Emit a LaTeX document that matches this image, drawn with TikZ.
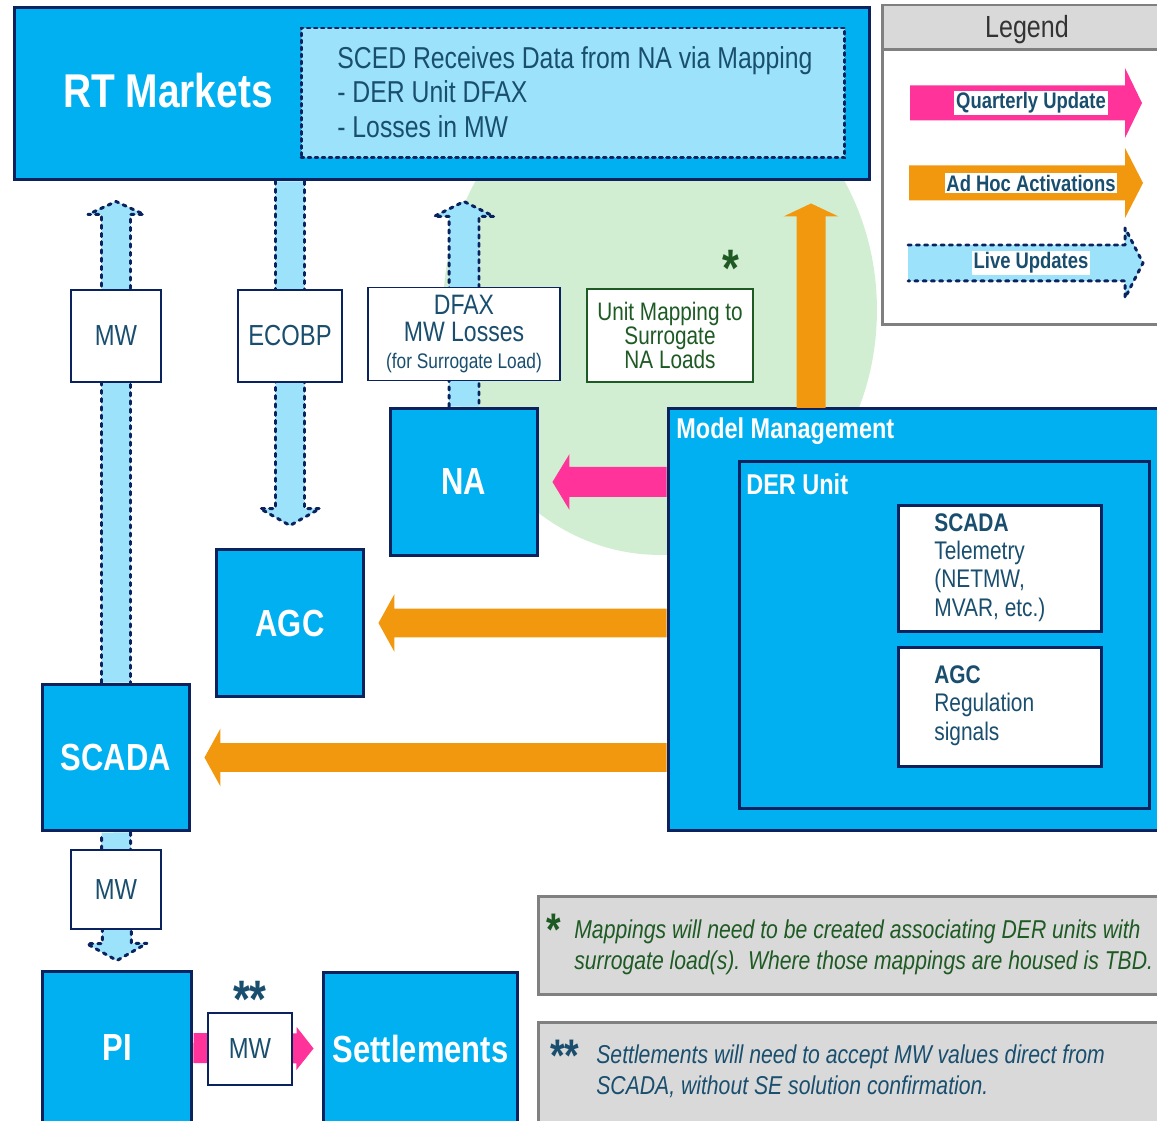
\documentclass[tikz,border=0pt]{standalone}
\usepackage{fontspec}
\setmainfont{Liberation Sans}[FakeStretch=0.82]
\usetikzlibrary{calc}

\definecolor{cyanbox}{RGB}{0,176,240}
\definecolor{navy}{RGB}{10,35,95}
\definecolor{livefill}{RGB}{155,226,250}
\definecolor{pinkq}{RGB}{255,51,153}
\definecolor{orangeah}{RGB}{242,152,14}
\definecolor{greenbg}{RGB}{210,238,210}
\definecolor{txtblue}{RGB}{25,78,110}
\definecolor{txtgreen}{RGB}{30,90,35}
\definecolor{notefill}{RGB}{217,217,217}
\definecolor{noteline}{RGB}{128,128,128}

\newcommand\rtfont{\fontsize{27}{30}\selectfont\bfseries}
\newcommand\bigfont{\fontsize{21.5}{24}\selectfont\bfseries}
\newcommand\scedfont{\fontsize{17.2}{19.6}\selectfont\lineskiplimit=-5pt\relax}
\newcommand\lblfont{\fontsize{16.5}{19}\selectfont}
\newcommand\mmfont{\fontsize{16.3}{19}\selectfont\bfseries}
\newcommand\derfont{\fontsize{14.5}{16.2}\selectfont\lineskiplimit=-5pt\relax}
\newcommand\legfont{\fontsize{12.8}{15}\selectfont\bfseries}
\newcommand\legtitle{\fontsize{17.4}{20}\selectfont}
\newcommand\notefont{\fontsize{14.7}{17.6}\selectfont\itshape\lineskiplimit=-5pt\relax}
\newcommand\tightfont{\fontsize{16}{15.3}\selectfont\lineskiplimit=-5pt\relax}
\newcommand\mapfont{\fontsize{14.4}{13.5}\selectfont\lineskiplimit=-5pt\relax}

% fat arrow: colour, tail, tip, body half width, head half width, head length
\newcommand\blockarrow[6]{%
  \coordinate (ah) at ($(#3)!#6!(#2)$);
  \fill[#1] ($(#2)!#4!90:(#3)$) -- ($(ah)!#4!90:(#3)$) -- ($(ah)!#5!90:(#3)$) -- (#3)
    -- ($(ah)!#5!-90:(#3)$) -- ($(ah)!#4!-90:(#3)$) -- ($(#2)!#4!-90:(#3)$) -- cycle;
}
% live update arrow: tail, tip, body half width, head half width, head length
\newcommand\livearrow[5]{%
  \coordinate (ah) at ($(#2)!#5!(#1)$);
  \fill[livefill] ($(#1)!#3!90:(#2)$) -- ($(ah)!#3!90:(#2)$) -- ($(ah)!#4!90:(#2)$) -- (#2)
    -- ($(ah)!#4!-90:(#2)$) -- ($(ah)!#3!-90:(#2)$) -- ($(#1)!#3!-90:(#2)$) -- cycle;
  \draw[navy, line width=1.7pt, dash pattern=on 1.8pt off 2.9pt, line cap=round, line join=round]
    ($(#1)!#3!90:(#2)$) -- ($(ah)!#3!90:(#2)$) -- ($(ah)!#4!90:(#2)$) -- (#2)
    -- ($(ah)!#4!-90:(#2)$) -- ($(ah)!#3!-90:(#2)$) -- ($(#1)!#3!-90:(#2)$);
}

\begin{document}
\begin{tikzpicture}[x=0.02cm, y=-0.02cm]
	\tikzstyle{blk} = [draw=navy, fill=cyanbox, line width=1.7pt, inner sep=0pt, text=white, font=\bigfont]
	\tikzstyle{lbl} = [draw=navy, fill=white, line width=1.1pt, inner sep=0pt, text=txtblue, align=center, font=\lblfont]
	\tikzstyle{note} = [draw=noteline, fill=notefill, line width=1.7pt, inner sep=0pt]
	\tikzstyle{txt} = [inner sep=0pt, anchor=west, align=left]
	\useasboundingbox (0,0) rectangle (1157,1121);
	\clip (0,0) rectangle (1157,1121);

	% mapping area
	\fill[greenbg] (660,310) ellipse (4.34cm and 4.9cm);

	% RT markets
	\node[blk, minimum width=17.12cm, minimum height=3.46cm] (rt) at (442,93.5) {};
	\node[text=white, font=\rtfont] (rtlbl) at (168,91) {RT Markets};
	\node[draw=navy, fill=livefill, line width=1.7pt, dash pattern=on 1.6pt off 2.4pt, line cap=round,
		minimum width=10.88cm, minimum height=2.6cm, inner sep=0pt] (sced) at (573,93) {};
	\node[txt, text=txtblue, font=\scedfont] (scedtxt) at (337,92)
		{SCED Receives Data from NA via Mapping\\- DER Unit DFAX\\- Losses in MW};

	% legend
	\node[draw=noteline, fill=white, line width=1.7pt, minimum width=5.86cm, minimum height=6.4cm, inner sep=0pt] (legend) at (1028.5,165) {};
	\node[draw=noteline, fill=notefill, line width=1.7pt, minimum width=5.86cm, minimum height=0.9cm, inner sep=0pt] (leghead) at (1028.5,27.5) {};
	\node[text=black!80, font=\legtitle] (legtxt) at (1027,30) {Legend};
	\coordinate (q1) at (910,103);
	\coordinate (q2) at (1142,103);
	\coordinate (h1) at (909,183);
	\coordinate (h2) at (1143,183);
	\coordinate (l1) at (908,263);
	\coordinate (l2) at (1143,263);
	\blockarrow{pinkq}{q1}{q2}{0.35cm}{0.7cm}{0.34cm}
	\blockarrow{orangeah}{h1}{h2}{0.35cm}{0.7cm}{0.36cm}
	\livearrow{l1}{l2}{0.36cm}{0.7cm}{0.36cm}
	\node[fill=white, inner sep=1pt, text=txtblue, font=\legfont] (qtxt) at (1031,103) {Quarterly Update};
	\node[fill=white, inner sep=1pt, text=txtblue, font=\legfont] (htxt) at (1031,183) {Ad Hoc Activations};
	\node[fill=white, inner sep=1pt, text=txtblue, font=\legfont] (ltxt) at (1031,263) {Live Updates};

	% systems
	\node[blk, minimum width=2.96cm, minimum height=2.96cm] (na) at (464,482) {NA};
	\node[blk, minimum width=2.96cm, minimum height=2.96cm] (agc) at (290,623) {AGC};
	\node[blk, minimum width=2.96cm, minimum height=2.94cm] (scada) at (116,757.5) {SCADA};
	\node[blk, minimum width=3cm, minimum height=3.08cm] (pi) at (117,1048) {PI};
	\node[blk, minimum width=3.9cm, minimum height=3.06cm] (set) at (420.5,1048.5) {Settlements};

	% model management
	\node[blk, minimum width=10.14cm, minimum height=8.46cm] (mm) at (921.5,619.5) {};
	\node[txt, text=white, font=\mmfont] (mmtxt) at (676,431) {Model Management};
	\node[blk, minimum width=8.22cm, minimum height=6.96cm] (der) at (944.5,635) {};
	\node[txt, text=white, font=\mmfont] (dertxt) at (746,484) {DER Unit};
	\node[draw=navy, fill=white, line width=1.7pt, minimum width=4.08cm, minimum height=2.54cm] (scadat) at (1000,568.5) {};
	\node[txt, text=txtblue, font=\derfont] (scadatxt) at (934,567.5)
		{\textbf{SCADA}\\Telemetry\\(NETMW,\\MVAR, etc.)};
	\node[draw=navy, fill=white, line width=1.7pt, minimum width=4.08cm, minimum height=2.4cm] (agct) at (1000,707) {};
	\node[txt, text=txtblue, font=\derfont] (agctxt) at (934,705.5)
		{\textbf{AGC}\\Regulation\\signals};

	% live updates
	\coordinate (mwtip) at ($(rt.south -| scada)+(0,20)$);
	\coordinate (ecotail) at (rt.south -| agc);
	\coordinate (ecotip) at ($(agc.north)+(0,-22)$);
	\coordinate (natip) at ($(rt.south -| na)+(0,20)$);
	\coordinate (pitip) at ($(pi.north)+(0,-9)$);
	\livearrow{scada.north}{mwtip}{0.29cm}{0.56cm}{0.26cm}
	\livearrow{ecotail}{ecotip}{0.29cm}{0.6cm}{0.34cm}
	\livearrow{na.north}{natip}{0.3cm}{0.6cm}{0.3cm}
	\livearrow{scada.south}{pitip}{0.29cm}{0.6cm}{0.34cm}

	% quarterly and ad hoc
	\coordinate (mmup) at (811,408);
	\coordinate (mmuptip) at ($(rt.south -| mmup)+(0,22)$);
	\coordinate (nahead) at ($(na.east)+(13,0)$);
	\coordinate (agchead) at ($(agc.east)+(13,0)$);
	\coordinate (scadahead) at ($(scada.east)+(13,0)$);
	\coordinate (sethead) at ($(set.west)+(-8,0)$);
	\blockarrow{orangeah}{mmup}{mmuptip}{0.29cm}{0.55cm}{0.26cm}
	\blockarrow{pinkq}{mm.west |- na}{nahead}{0.3cm}{0.56cm}{0.34cm}
	\blockarrow{orangeah}{mm.west |- agc}{agchead}{0.29cm}{0.58cm}{0.32cm}
	\blockarrow{orangeah}{mm.west |- scada}{scadahead}{0.29cm}{0.58cm}{0.32cm}
	\blockarrow{pinkq}{pi.east}{sethead}{0.3cm}{0.43cm}{0.34cm}

	% labels
	\node[lbl, minimum width=1.8cm, minimum height=1.84cm] (mwa) at (116,336) {MW};
	\node[lbl, minimum width=2.08cm, minimum height=1.84cm] (ecobp) at (290,336) {ECOBP};
	\node[lbl, minimum width=3.84cm, minimum height=1.86cm, font=\tightfont] (dfax) at (464,334)
		{DFAX\\MW Losses\\\fontsize{12}{15.3}\selectfont (for Surrogate Load)};
	\node[lbl, draw=txtgreen, text=txtgreen, minimum width=3.32cm, minimum height=1.86cm, font=\mapfont] (umap) at (670,335.5)
		{Unit Mapping to\\Surrogate\\NA Loads};
	\node[text=txtgreen, font=\fontsize{30}{30}\selectfont\bfseries] (star) at (731,268) {*};
	\node[lbl, minimum width=1.8cm, minimum height=1.58cm] (mwb) at (116,889.5) {MW};
	\node[lbl, minimum width=1.68cm, minimum height=1.44cm] (mwc) at (250,1049) {MW};
	\node[text=txtblue, font=\fontsize{30}{30}\selectfont\bfseries] (stars) at (250,999) {**};

	% notes
	\node[note, minimum width=12.74cm, minimum height=1.98cm] (note1) at (856.5,945.5) {};
	\node[text=txtgreen, font=\fontsize{26}{26}\selectfont\bfseries] (n1star) at (554,930) {*};
	\node[txt, text=txtgreen, font=\notefont] (n1txt) at (574,947.5)
		{Mappings will need to be created associating DER units with\\surrogate load(s). Where those mappings are housed is TBD.};
	\node[note, minimum width=12.74cm, minimum height=2.16cm] (note2) at (856.5,1076) {};
	\node[text=txtblue, font=\fontsize{26}{26}\selectfont\bfseries] (n2star) at (565,1056) {**};
	\node[txt, text=txtblue, font=\notefont] (n2txt) at (596,1071)
		{Settlements will need to accept MW values direct from\\SCADA, without SE solution confirmation.};
\end{tikzpicture}
\end{document}
